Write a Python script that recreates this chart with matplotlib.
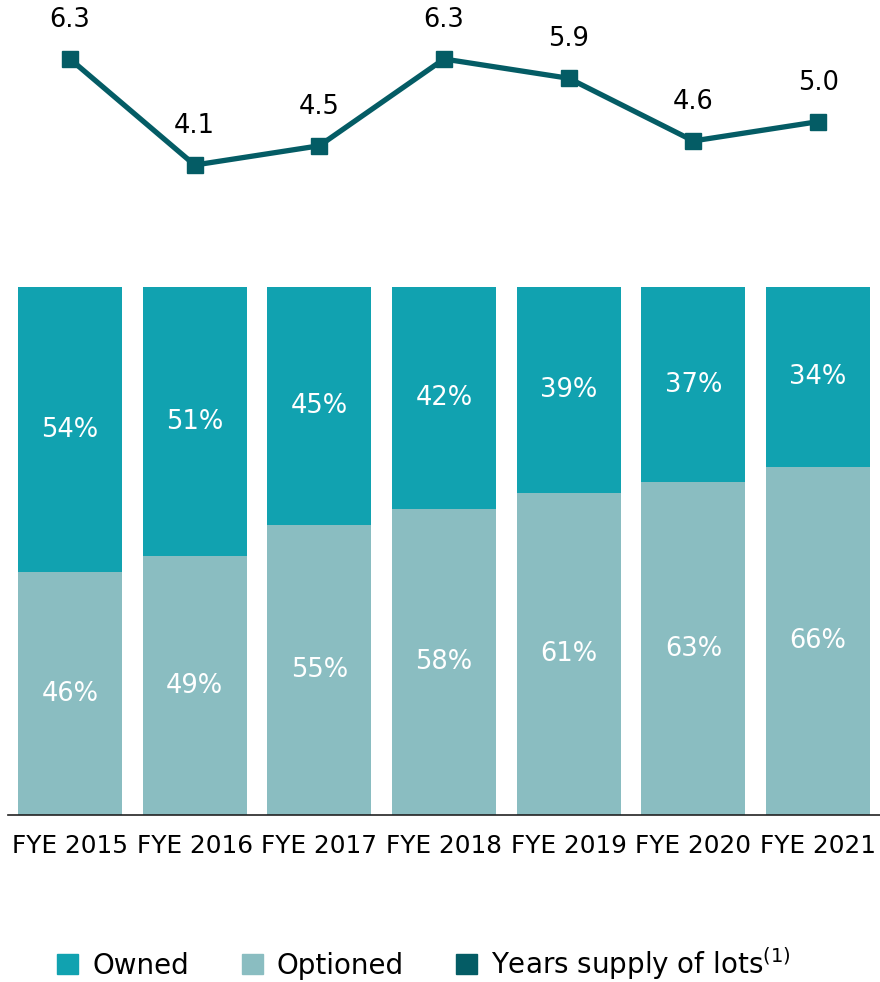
import matplotlib.pyplot as plt
from matplotlib.patches import Patch
import numpy as np

years = ["FYE 2015", "FYE 2016", "FYE 2017", "FYE 2018", "FYE 2019", "FYE 2020", "FYE 2021"]
owned = [54, 51, 45, 42, 39, 37, 34]
optioned = [46, 49, 55, 58, 61, 63, 66]
supply = [6.3, 4.1, 4.5, 6.3, 5.9, 4.6, 5.0]

c_owned = "#11a2b0"
c_opt = "#8abdc1"
c_line = "#045c65"

plt.rcParams['font.family'] = ['DejaVu Sans']

fig = plt.figure(figsize=(8.8, 9.82), dpi=100)
W, H = 880.0, 982.0

x = np.arange(len(years))
left = 7.7 / W
width = 872.7 / W

# stacked bars: 0..100% spans pixel rows 815 -> 287
ax = fig.add_axes([left, (H - 815) / H, width, 528 / H])
bw = 0.834
opt_frac = np.array(optioned) / 100.0
own_frac = np.array(owned) / 100.0
ax.bar(x, opt_frac, bw, color=c_opt)
ax.bar(x, own_frac, bw, bottom=opt_frac, color=c_owned)
for i in range(len(years)):
    ax.text(x[i], opt_frac[i] / 2, f"{optioned[i]}%", ha="center", va="center",
            color="white", fontsize=18.5)
    ax.text(x[i], opt_frac[i] + own_frac[i] / 2, f"{owned[i]}%", ha="center", va="center",
            color="white", fontsize=18.5)
ax.set_xlim(-0.5, len(years) - 0.5)
ax.set_ylim(0, 1)
ax.set_yticks([])
ax.set_xticks(x)
ax.set_xticklabels(years, fontsize=17.8)
ax.tick_params(axis="x", length=0, pad=14)
for s in ["top", "right", "left"]:
    ax.spines[s].set_visible(False)
ax.spines["bottom"].set_linewidth(1.2)
ax.spines["bottom"].set_color("#222222")

# years supply line on its own axes above the bars
lax = fig.add_axes([left, (H - 260) / H, width, 260 / H])
lax.plot(x, supply, color=c_line, lw=3.8, marker="s", markersize=11.5)
for i, v in enumerate(supply):
    lax.annotate(f"{v:.1f}", (x[i], v), xytext=(0, 28), textcoords="offset points",
                 ha="center", va="center", fontsize=18.5)
lax.set_xlim(-0.5, len(years) - 0.5)
lax.set_ylim(2.13, 7.524)
lax.axis("off")

handles = [Patch(color=c_owned), Patch(color=c_opt), Patch(color=c_line)]
labels = ["Owned", "Optioned", "Years supply of lots$^{(1)}$"]
fig.legend(handles, labels, loc="center", bbox_to_anchor=(0.482, 0.019), ncol=3,
           frameon=False, fontsize=20, handlelength=0.75, handleheight=0.75,
           handletextpad=0.5, columnspacing=1.9)

fig.savefig("out.png", dpi=100)
